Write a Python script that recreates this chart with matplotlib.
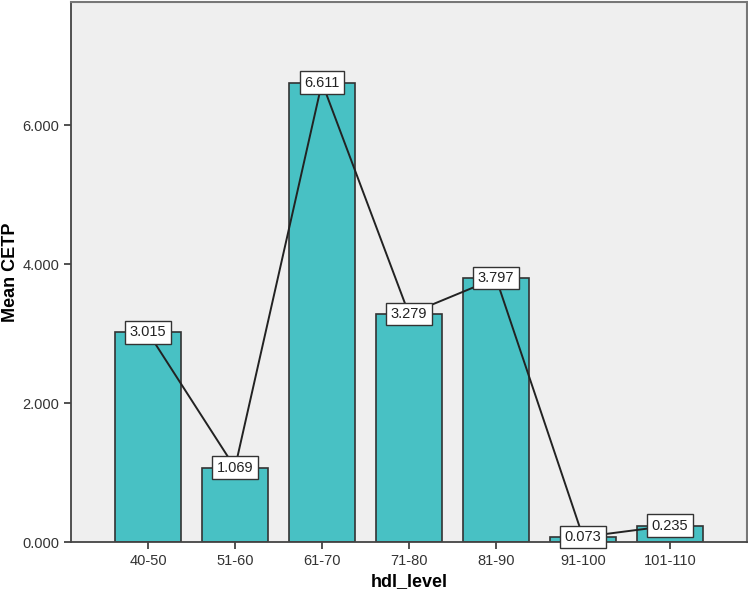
import matplotlib.pyplot as plt
import numpy as np

plt.rcParams['font.family'] = ['Liberation Sans', 'DejaVu Sans']

levels = ['40-50', '51-60', '61-70', '71-80', '81-90', '91-100', '101-110']
mean_cetp = [3.015, 1.069, 6.611, 3.279, 3.797, 0.073, 0.235]
yticks = [0, 2, 4, 6]

x = np.arange(len(levels))

fig = plt.figure(figsize=(7.48, 5.99), dpi=100)
ax = fig.add_axes([71 / 748, 1 - 542 / 599, 676 / 748, 540 / 599])
ax.set_facecolor('#efefef')

ax.bar(x, mean_cetp, width=0.75, color='#48c1c4', edgecolor='#333333', linewidth=1.2, zorder=2)
ax.plot(x, mean_cetp, color='#222222', linewidth=1.4, zorder=3)
for xi, v in zip(x, mean_cetp):
    ax.text(xi, v, '%.3f' % v, ha='center', va='center', fontsize=10.5, color='#222222', zorder=4,
            bbox=dict(boxstyle='square,pad=0.3', facecolor='white', edgecolor='#333333', linewidth=1))

ax.set_xlim(-0.885, 6.885)
ax.set_ylim(0, 7.77)
ax.set_xticks(x)
ax.set_xticklabels(levels, fontsize=10.5, color='#333333')
ax.set_yticks(yticks)
ax.set_yticklabels(['%.3f' % t for t in yticks], fontsize=10.5, color='#333333')
ax.tick_params(length=5, width=1.2, color='#333333')

for s in ['left', 'bottom']:
    ax.spines[s].set_color('#444444')
    ax.spines[s].set_linewidth(1.3)
for s in ['top', 'right']:
    ax.spines[s].set_color('#777777')
    ax.spines[s].set_linewidth(1.5)

ax.set_ylabel('Mean CETP', fontsize=13, fontweight='bold')
ax.set_xlabel('hdl_level', fontsize=13, fontweight='bold')
ax.yaxis.set_label_coords(-0.090, 0.5)
ax.xaxis.set_label_coords(0.5, -0.074)
ax.yaxis.label.set_va('center')
ax.xaxis.label.set_va('center')

fig.savefig('out.png', dpi=100)
